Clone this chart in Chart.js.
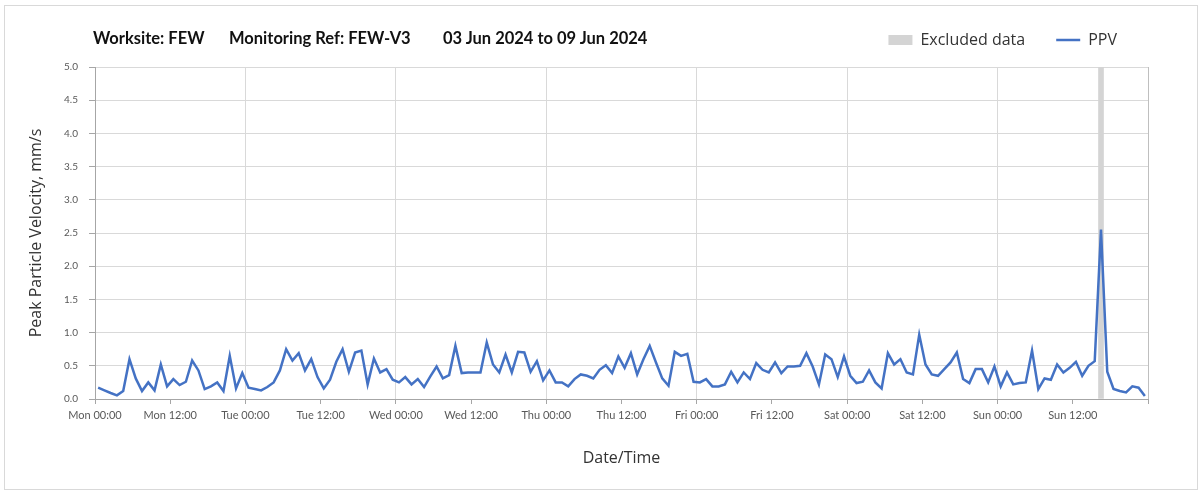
<!DOCTYPE html>
<html>
<head>
<meta charset="utf-8">
<script src="https://cdn.jsdelivr.net/npm/chart.js@4.4.1/dist/chart.umd.min.js"></script>
<style>
  html, body { margin: 0; padding: 0; background: #fff; }
  #wrap { position: relative; width: 1203px; height: 493px; overflow: hidden; }
  #frame { position: absolute; left: 4px; top: 5px; width: 1192px; height: 483px; border: 1px solid #d9d9d9; }
  #chartPpv { position: absolute; left: 0; top: 0; }
  .ttl { position: absolute; top: 28px; font: bold 16.5px Lato, sans-serif; line-height: 20px; color: #111; white-space: nowrap; }
</style>
</head>
<body>
<div id="wrap">
  <div id="frame"></div>
  <canvas id="chartPpv" width="1203" height="493"></canvas>
  <span class="ttl" style="left:93px">Worksite: FEW</span>
  <span class="ttl" style="left:229px">Monitoring Ref: FEW-V3</span>
  <span class="ttl" style="left:443px">03 Jun 2024 to 09 Jun 2024</span>
</div>
<script>
// ppv.js — weekly PPV chart

// hourly readings, first one half an hour after Mon 00:00
const ppvStartHour = 0.5;
const ppvStepHours = 1;
const ppvValues = [
  0.17, 0.13, 0.09, 0.055, 0.12, 0.60, 0.31, 0.12, 0.25, 0.13,
  0.52, 0.19, 0.30, 0.21, 0.26, 0.58, 0.43, 0.15, 0.19, 0.25,
  0.12, 0.65, 0.16, 0.39, 0.17, 0.15, 0.13, 0.18, 0.25, 0.43,
  0.75, 0.58, 0.69, 0.43, 0.60, 0.33, 0.16, 0.29, 0.56, 0.75,
  0.41, 0.70, 0.73, 0.22, 0.61, 0.40, 0.45, 0.29, 0.25, 0.33,
  0.22, 0.30, 0.18, 0.34, 0.49, 0.31, 0.36, 0.80, 0.39, 0.40,
  0.40, 0.40, 0.85, 0.52, 0.40, 0.67, 0.40, 0.71, 0.70, 0.41,
  0.57, 0.28, 0.43, 0.25, 0.25, 0.19, 0.30, 0.37, 0.35, 0.31,
  0.44, 0.51, 0.39, 0.64, 0.47, 0.69, 0.37, 0.60, 0.80, 0.55,
  0.31, 0.20, 0.71, 0.65, 0.68, 0.26, 0.25, 0.30, 0.19, 0.19,
  0.22, 0.41, 0.25, 0.40, 0.30, 0.54, 0.44, 0.40, 0.55, 0.39,
  0.49, 0.49, 0.50, 0.69, 0.49, 0.22, 0.67, 0.60, 0.33, 0.64,
  0.35, 0.24, 0.26, 0.43, 0.25, 0.16, 0.69, 0.52, 0.60, 0.40,
  0.37, 0.97, 0.52, 0.37, 0.35, 0.45, 0.55, 0.70, 0.30, 0.24,
  0.45, 0.45, 0.25, 0.49, 0.19, 0.40, 0.22, 0.24, 0.25, 0.73,
  0.15, 0.31, 0.29, 0.52, 0.40, 0.47, 0.56, 0.35, 0.50, 0.57,
  2.55, 0.41, 0.15, 0.12, 0.10, 0.19, 0.17, 0.045
];

// excluded slot (hours after Mon 00:00)
const excludedHours = [160.5];

const xTickLabels = [
  'Mon 00:00', 'Mon 12:00', 'Tue 00:00', 'Tue 12:00', 'Wed 00:00', 'Wed 12:00',
  'Thu 00:00', 'Thu 12:00', 'Fri 00:00', 'Fri 12:00', 'Sat 00:00', 'Sat 12:00',
  'Sun 00:00', 'Sun 12:00', ''
];
const xMaxHours = 168;
const yMax = 5.0;

const ppvPoints = ppvValues.map((v, i) => ({ x: ppvStartHour + i * ppvStepHours, y: v }));
const excludedBars = excludedHours.map(h => ({ x: h, y: yMax }));

// empty box under the legend so the plot starts lower
const legendGap = {
  id: 'legendGap',
  beforeInit(chart, args, opts) {
    Chart.layouts.addBox(chart, {
      position: 'top', weight: 0, fullSize: true,
      options: {},
      left: 0, top: 0, right: 0, bottom: 0, width: 0, height: 0,
      isHorizontal() { return true; },
      update(maxWidth) { this.width = maxWidth; this.height = opts.height || 0; },
      draw() {}
    });
  }
};

const gridCol  = '#d9d9d9';
const axisCol  = '#a6a6a6';
const labelCol = '#595959';
const textCol  = '#333333';

const ctx = document.getElementById('chartPpv').getContext('2d');
const chart = new Chart(ctx, {
  type: 'line',
  data: {
    datasets: [
      {
        type: 'bar',
        label: 'Excluded data',
        data: excludedBars,
        backgroundColor: '#d4d4d4',
        borderWidth: 0,
        barThickness: 5,
        order: 2
      },
      {
        type: 'line',
        label: 'PPV',
        data: ppvPoints,
        borderColor: '#4472c4',
        backgroundColor: '#4472c4',
        borderWidth: 2.5,
        pointRadius: 0,
        tension: 0,
        order: 1
      }
    ]
  },
  plugins: [legendGap],
  options: {
    responsive: false,
    animation: false,
    layout: { padding: { top: 1, right: 55, bottom: 0, left: 0 } },
    plugins: {
      legendGap: { height: 9 },
      tooltip: { enabled: false },
      legend: {
        position: 'top',
        align: 'end',
        labels: {
          usePointStyle: true,
          pointStyleWidth: 24,
          boxHeight: 10,
          padding: 31,
          color: textCol,
          font: { family: "'Open Sans', sans-serif", size: 16 },
          sort: (a, b) => a.datasetIndex - b.datasetIndex,
          generateLabels(chart) {
            const base = Chart.defaults.plugins.legend.labels.generateLabels(chart);
            base.forEach(l => {
              if (l.datasetIndex === 0) {
                l.pointStyle = 'rect';
                l.lineWidth = 0;
              } else {
                l.pointStyle = 'line';
                l.lineWidth = 2.5;
                l.strokeStyle = '#4472c4';
              }
            });
            return base;
          }
        }
      }
    },
    scales: {
      x: {
        type: 'linear',
        min: 0,
        max: xMaxHours,
        offset: false,
        grid: {
          offset: false,
          color: (c) => {
            if (!c.tick) return 'transparent';
            if (c.tick.value === xMaxHours) return '#bfbfbf';
            return c.tick.value % 24 === 0 ? gridCol : 'transparent';
          },
          tickColor: axisCol,
          tickLength: 5
        },
        border: { color: axisCol, width: 1 },
        ticks: {
          stepSize: 12,
          autoSkip: false,
          maxRotation: 0,
          padding: 5,
          color: labelCol,
          font: { family: 'Lato, sans-serif', size: 11 },
          callback: (v) => xTickLabels[Math.round(v / 12)]
        },
        title: {
          display: true,
          text: 'Date/Time',
          color: textCol,
          font: { family: "'Open Sans', sans-serif", size: 16 },
          padding: { top: 0, bottom: 25 }
        },
        afterFit: (s) => { s.height = 94; }
      },
      y: {
        min: 0,
        max: yMax,
        grid: { color: gridCol, tickColor: axisCol, tickLength: 6 },
        border: { color: axisCol, width: 1 },
        ticks: {
          stepSize: 0.5,
          padding: 11,
          color: labelCol,
          font: { family: 'Lato, sans-serif', size: 10 },
          callback: (v) => v.toFixed(1)
        },
        title: {
          display: true,
          text: 'Peak Particle Velocity, mm/s',
          color: textCol,
          font: { family: "'Open Sans', sans-serif", size: 16 },
          padding: { top: 27, bottom: 0 }
        },
        afterFit: (s) => { s.width = 95; }
      }
    }
  }
});
</script>
</body>
</html>
